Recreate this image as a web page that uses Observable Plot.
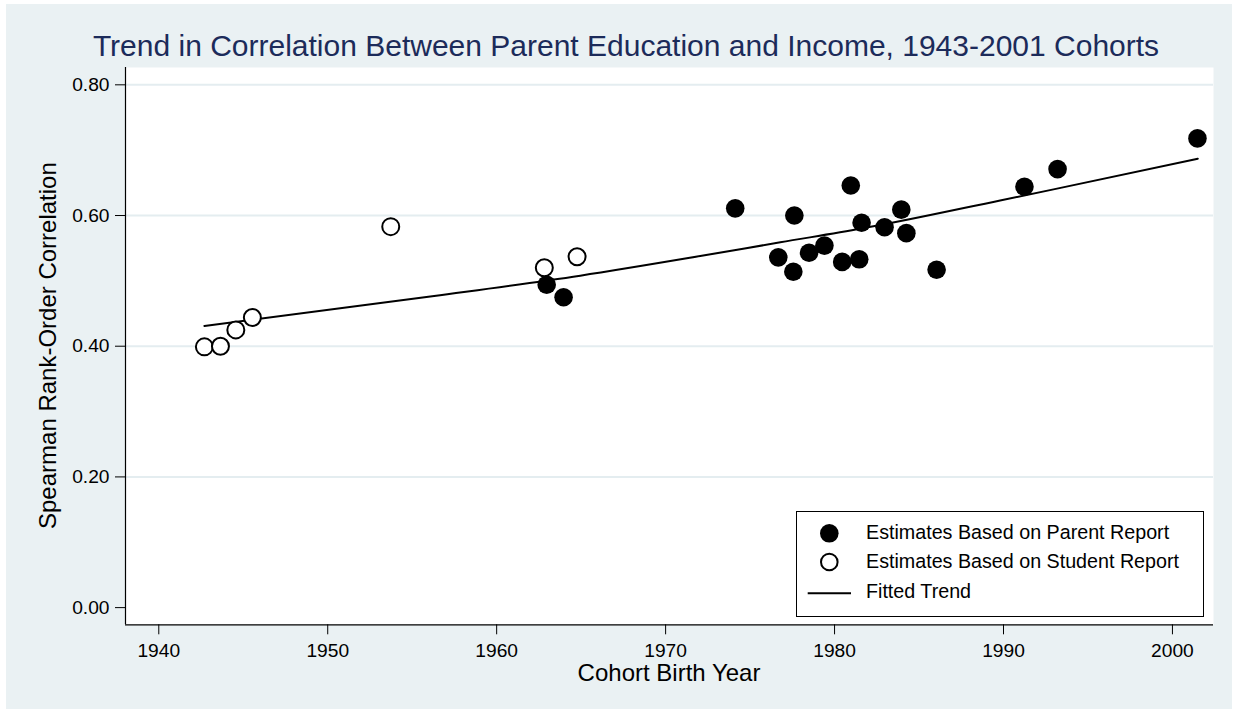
<!DOCTYPE html>
<html>
<head>
<meta charset="utf-8">
<script src="https://cdn.jsdelivr.net/npm/d3@7"></script>
<script src="https://cdn.jsdelivr.net/npm/@observablehq/plot@0.6"></script>
<style>
  html, body { margin: 0; padding: 0; background: #ffffff; width: 1236px; height: 715px; overflow: hidden; }
  body { font-family: "Liberation Sans", Arial, Helvetica, sans-serif; position: relative; }
  #bg { position: absolute; left: 6px; top: 4px; width: 1226px; height: 705px; background: #eaf1f3; }
  #chart { position: absolute; left: 0; top: 60px; }
  #overlay { position: absolute; left: 0; top: 0; pointer-events: none; }
</style>
</head>
<body>
<div id="bg"></div>
<div id="chart"></div>
<svg id="overlay" width="1236" height="715" xmlns="http://www.w3.org/2000/svg"></svg>
<script>
// ---- Data ----
const titleText = "Trend in Correlation Between Parent Education and Income, 1943-2001 Cohorts";
const xTitle = "Cohort Birth Year";
const yTitle = "Spearman Rank-Order Correlation";
const legendLabels = ["Estimates Based on Parent Report", "Estimates Based on Student Report", "Fitted Trend"];

// Estimates based on parent report (filled circles)
const parentYear = [1962.96, 1963.96, 1974.12, 1976.67, 1977.56, 1977.62, 1978.49, 1979.40, 1980.45, 1980.96,
                    1981.46, 1981.60, 1982.96, 1983.95, 1984.25, 1986.04, 1991.24, 1993.20, 2001.48];
const parentCorr = [0.494, 0.475, 0.611, 0.536, 0.514, 0.600, 0.543, 0.554, 0.529, 0.646,
                    0.533, 0.589, 0.582, 0.609, 0.573, 0.517, 0.644, 0.671, 0.718];

// Estimates based on student report (open circles)
const studentYear = [1942.70, 1943.65, 1944.56, 1945.54, 1953.73, 1962.82, 1964.76];
const studentCorr = [0.399, 0.400, 0.425, 0.444, 0.583, 0.520, 0.537];

// Fitted trend
const trendYear = [1942.70, 1953.12, 1956.30, 1964.95, 1972.05, 1976.79, 1981.60, 1989.80, 1992.96, 2001.50];
const trendCorr = [0.431, 0.466, 0.477, 0.508, 0.538, 0.559, 0.580, 0.623, 0.640, 0.687];

// Axes
const xTicks = [1940, 1950, 1960, 1970, 1980, 1990, 2000];
const yTicks = [0, 0.2, 0.4, 0.6, 0.8];
const yGrid = [0.2, 0.4, 0.6, 0.8];
const xDomain = [1938.03, 2002.43];
const yDomain = [-0.0263, 0.8265];

// ---- Build tables ----
const parent = parentYear.map((x, i) => ({x, y: parentCorr[i]}));
const student = studentYear.map((x, i) => ({x, y: studentCorr[i]}));
const trend = trendYear.map((x, i) => ({x, y: trendCorr[i]}));

const FONT = "Liberation Sans, Arial, Helvetica, sans-serif";

const chart = Plot.plot({
  width: 1236,
  height: 655,
  marginLeft: 125,
  marginRight: 23,
  marginTop: 7,
  marginBottom: 90.7,
  style: {background: "transparent", fontFamily: FONT, fontSize: "19px", color: "#000", overflow: "visible"},
  x: {domain: xDomain, label: null},
  y: {domain: yDomain, label: null},
  marks: [
    Plot.frame({fill: "white", stroke: "none"}),
    Plot.gridY(yGrid, {stroke: "#e4edf0", strokeOpacity: 1, strokeWidth: 2}),
    Plot.ruleX([xDomain[0]], {stroke: "#000", strokeWidth: 1.2}),
    Plot.ruleY([yDomain[0]], {stroke: "#000", strokeWidth: 1.2}),
    Plot.axisX({ticks: xTicks, tickFormat: "d", tickSize: 10, tickPadding: 9, fontSize: 19.2, label: null, stroke: "#000"}),
    Plot.axisY({ticks: yTicks, tickFormat: d3.format(".2f"), tickSize: 10, tickPadding: 6, fontSize: 19.2, label: null, stroke: "#000"}),
    Plot.line(trend, {x: "x", y: "y", stroke: "#000", strokeWidth: 2, curve: "monotone-x"}),
    Plot.dot(student, {x: "x", y: "y", r: 8.5, fill: "white", stroke: "#000", strokeWidth: 2}),
    Plot.dot(parent, {x: "x", y: "y", r: 9.3, fill: "#000", stroke: "none"})
  ]
});
document.getElementById("chart").appendChild(chart);

// ---- Overlay: title, axis titles, legend ----
const ov = d3.select("#overlay");
ov.append("text").attr("x", 626).attr("y", 56).attr("text-anchor", "middle")
  .attr("font-family", FONT).attr("font-size", 30).attr("fill", "#1c2b5a").text(titleText);
ov.append("text").attr("x", 669).attr("y", 681).attr("text-anchor", "middle")
  .attr("font-family", FONT).attr("font-size", 24).attr("fill", "#000").text(xTitle);
ov.append("text").attr("transform", "translate(56,345.6) rotate(-90)").attr("text-anchor", "middle")
  .attr("font-family", FONT).attr("font-size", 24).attr("fill", "#000").text(yTitle);

const lg = ov.append("g");
lg.append("rect").attr("x", 796.5).attr("y", 511.5).attr("width", 407).attr("height", 105)
  .attr("fill", "white").attr("stroke", "#000").attr("stroke-width", 1);
lg.append("circle").attr("cx", 829.3).attr("cy", 533.3).attr("r", 9.3).attr("fill", "#000");
lg.append("circle").attr("cx", 829.3).attr("cy", 562).attr("r", 8.3).attr("fill", "white")
  .attr("stroke", "#000").attr("stroke-width", 2);
lg.append("line").attr("x1", 807.7).attr("x2", 851).attr("y1", 593.3).attr("y2", 593.3)
  .attr("stroke", "#000").attr("stroke-width", 2);
const baselines = [539.3, 567.7, 597.7];
legendLabels.forEach((t, i) => {
  lg.append("text").attr("x", 866).attr("y", baselines[i]).attr("font-family", FONT)
    .attr("font-size", 19.7).attr("fill", "#000").text(t);
});
</script>
</body>
</html>
